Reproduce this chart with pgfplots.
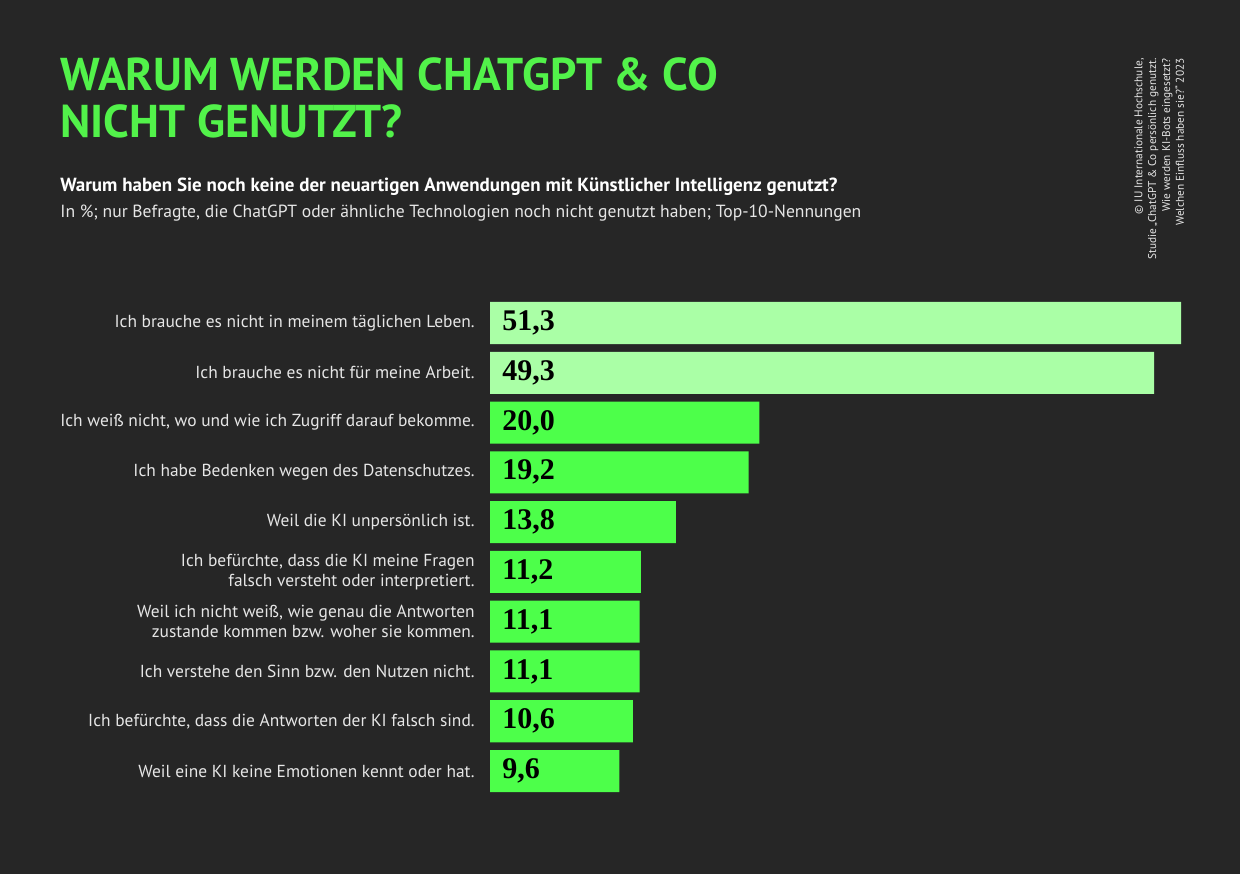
\documentclass[border=0pt]{standalone}
\usepackage{pgfplots}
\pgfplotsset{compat=1.18}
\usepackage{pgfplotstable}
\usepackage{fontspec}
\setmainfont{PT Sans}
\newfontfamily\valfont{Liberation Serif}
\definecolor{bg}{HTML}{262626}
\definecolor{brightgreen}{HTML}{4DFF4A}
\definecolor{titlegreen}{HTML}{52F24A}
\definecolor{lightgreen}{HTML}{AAFFA6}
\definecolor{labeltext}{HTML}{E6E6E6}

\pgfplotstableread{
y val label
0 51.3 {51,3}
1 49.3 {49,3}
}\lighttab
\pgfplotstableread{
y val label
2 20.0 {20,0}
3 19.2 {19,2}
4 13.8 {13,8}
5 11.2 {11,2}
6 11.1 {11,1}
7 11.1 {11,1}
8 10.6 {10,6}
9 9.6 {9,6}
}\darktab

\begin{document}
\begin{tikzpicture}
\fill[bg] (0,0) rectangle (620pt,437pt);
% title
\node[anchor=base west, inner sep=0pt, text=titlegreen, font=\fontsize{23}{26}\selectfont\bfseries] at (30pt,391.5pt) {WARUM WERDEN CHATGPT \& CO};
\node[anchor=base west, inner sep=0pt, text=titlegreen, font=\fontsize{23}{26}\selectfont\bfseries] at (30pt,368pt) {NICHT GENUTZT?};
% subtitle
\node[anchor=base west, inner sep=0pt, text=white, font=\fontsize{9.5}{11}\selectfont\bfseries] at (30pt,341pt) {Warum haben Sie noch keine der neuartigen Anwendungen mit Künstlicher Intelligenz genutzt?};
\node[anchor=base west, inner sep=0pt, text=labeltext, font=\fontsize{8.8}{10}\selectfont] at (30pt,328pt) {In \%; nur Befragte, die ChatGPT oder ähnliche Technologien noch nicht genutzt haben; Top-10-Nennungen};
% source
\node[rotate=90, anchor=north east, inner sep=0pt, align=right, text=labeltext, font=\fontsize{5.65}{6.9}\selectfont] at (567pt,408pt) {© IU Internationale Hochschule,\\Studie „ChatGPT \& Co persönlich genutzt.\\Wie werden KI-Bots eingesetzt?\\Welchen Einfluss haben sie?“ 2023};
\begin{axis}[
  at={(245pt,39.05pt)}, anchor=south west,
  scale only axis, width=345.5pt, height=248.9pt,
  xmin=0, xmax=51.3, ymin=-0.5, ymax=9.5,
  y dir=reverse,
  axis line style={draw=none},
  major tick length=0pt,
  xtick=\empty,
  ytick={0,...,9},
  yticklabels={
    {Ich brauche es nicht in meinem täglichen Leben.},
    {Ich brauche es nicht für meine Arbeit.},
    {Ich weiß nicht, wo und wie ich Zugriff darauf bekomme.},
    {Ich habe Bedenken wegen des Datenschutzes.},
    {Weil die KI unpersönlich ist.},
    {Ich befürchte, dass die KI meine Fragen\\falsch versteht oder interpretiert.},
    {Weil ich nicht weiß, wie genau die Antworten\\zustande kommen bzw. woher sie kommen.},
    {Ich verstehe den Sinn bzw. den Nutzen nicht.},
    {Ich befürchte, dass die Antworten der KI falsch sind.},
    {Weil eine KI keine Emotionen kennt oder hat.}
  },
  yticklabel style={align=right, inner sep=0pt, xshift=-7.5pt, text=labeltext, font=\fontsize{8.7}{10.2}\selectfont},
  clip=false,
]
\addplot[xbar, bar shift=0pt, bar width=0.844, fill=lightgreen, draw=none] table[x=val, y=y] {\lighttab};
\addplot[xbar, bar shift=0pt, bar width=0.844, fill=brightgreen, draw=none] table[x=val, y=y] {\darktab};
\addplot[draw=none, mark=none, nodes near coords, point meta=explicit symbolic,
  nodes near coords style={anchor=west, inner sep=0pt, xshift=6pt, text=black, font=\fontsize{15}{16}\selectfont\valfont\bfseries}]
  table[x expr=0, y=y, meta=label] {\lighttab};
\addplot[draw=none, mark=none, nodes near coords, point meta=explicit symbolic,
  nodes near coords style={anchor=west, inner sep=0pt, xshift=6pt, text=black, font=\fontsize{15}{16}\selectfont\valfont\bfseries}]
  table[x expr=0, y=y, meta=label] {\darktab};
\end{axis}
\end{tikzpicture}
\end{document}
